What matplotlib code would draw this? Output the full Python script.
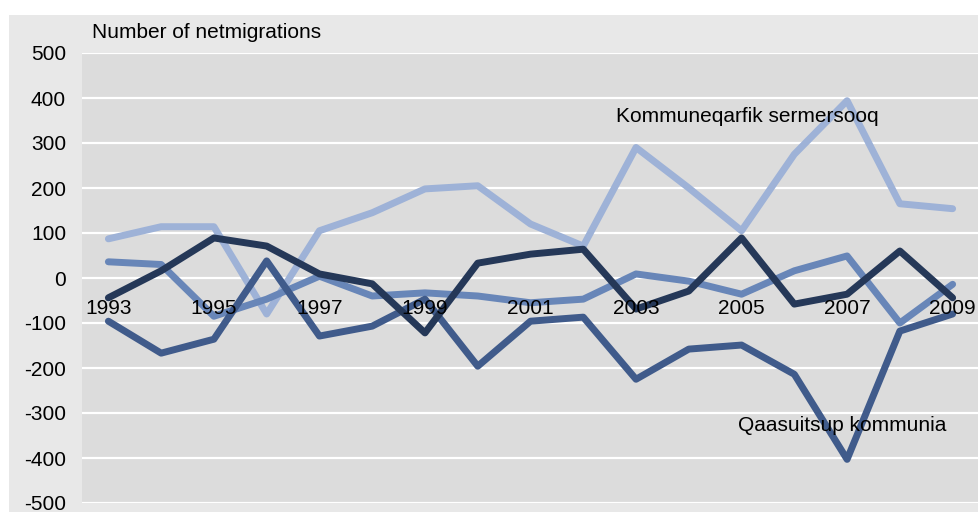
import matplotlib.pyplot as plt
from matplotlib.patches import Rectangle

plt.rcParams['font.family'] = ['Liberation Sans', 'DejaVu Sans']

years = list(range(1993, 2010))
year_labels = [str(y) if (y - 1993) % 2 == 0 else '' for y in years]

sermersooq = [87, 114, 114, -80, 105, 145, 198, 205, 120, 71, 290, 200, 105, 275, 394, 165, 154]
series_b = [36, 30, -85, -47, 4, -40, -33, -40, -55, -47, 9, -7, -36, 16, 49, -100, -14]
qaasuitsup = [-96, -167, -136, 38, -129, -107, -47, -196, -96, -87, -225, -158, -149, -214, -403, -118, -80]
series_d = [-44, 16, 89, 71, 9, -13, -122, 33, 53, 64, -69, -29, 89, -58, -36, 60, -44]

yticks = list(range(-500, 501, 100))
fs = 15

fig = plt.figure(figsize=(9.79, 5.12), dpi=100)
fig.patch.set_facecolor('white')
# outer chart area
fig.patches.append(Rectangle((9 / 979, 0), 1, 1 - 15 / 512, transform=fig.transFigure,
                             facecolor='#e8e8e8', edgecolor='none', zorder=-5))

ax = fig.add_axes([82 / 979, 1 - 503 / 512, 1 - 82 / 979, (503 - 53) / 512])
ax.set_zorder(1)
ax.set_facecolor('#dcdcdc')

lw = 5
ax.plot(years, sermersooq, color='#9eb2d7', lw=lw, solid_capstyle='round', zorder=3)
ax.plot(years, series_b, color='#6886b8', lw=lw, solid_capstyle='round', zorder=4)
ax.plot(years, qaasuitsup, color='#405b8b', lw=lw, solid_capstyle='round', zorder=5)
ax.plot(years, series_d, color='#253858', lw=lw, solid_capstyle='round', zorder=6)

ax.set_xlim(1992.5, 2009.5)
ax.set_ylim(-500, 500)
ax.set_yticks(yticks)
ax.set_yticklabels([str(v) for v in yticks], fontsize=fs)
ax.tick_params(axis='y', length=0, pad=11.5)
ax.set_xticks([])
ax.grid(axis='y', color='white', lw=1.6, zorder=1)
ax.set_axisbelow(True)
for s in ax.spines.values():
    s.set_visible(False)

for yr, lab in zip(years, year_labels):
    if lab:
        ax.annotate(lab, (yr, 0), xytext=(0, -30), textcoords='offset pixels',
                    ha='center', va='center', fontsize=fs, zorder=10)

ax.text(92 / 979, 1 - 33 / 512, 'Number of netmigrations', transform=fig.transFigure,
        ha='left', va='center', fontsize=fs)
ax.text(2005.1, 360, 'Kommuneqarfik sermersooq', ha='center', va='center', fontsize=fs, zorder=10)
ax.text(2006.9, -327, 'Qaasuitsup kommunia', ha='center', va='center', fontsize=fs, zorder=10)

fig.savefig('out.png', dpi=100)
